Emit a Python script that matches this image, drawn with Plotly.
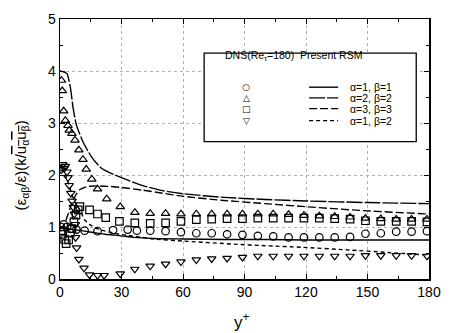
import plotly.graph_objects as go

# ---- DNS data (symbols) ----
c_x = [0.5, 1.8, 3.5, 5.5, 8, 12, 18.3, 25.9, 33, 37.5, 44, 51.5, 59, 66.5, 74, 81.5, 89, 96.5, 104, 111.5,
       119, 126.5, 134, 141.5, 149, 156.5, 164, 171.5, 179]
c_y = [1.0, 1.05, 1.0, 0.97, 0.95, 0.93, 0.92, 0.94, 0.95, 0.93, 0.93, 0.92, 0.90, 0.88, 0.88, 0.86, 0.85, 0.83,
       0.82, 0.80, 0.80, 0.80, 0.80, 0.81, 0.87, 0.88, 0.91, 0.91, 0.92]

t_x = [0.7, 1.1, 1.8, 2.6, 3.9, 4.5, 5.8, 7.3, 9.2, 11.2, 12.8, 15.5, 18.3, 22.8, 29.4, 36.5, 44, 51.5, 59, 66.5,
       74, 81.5, 89, 96.5, 104, 111.5, 119, 126.5, 134, 141.5, 149, 156.5, 164, 171.5, 179]
t_y = [3.82, 3.62, 3.23, 3.05, 2.95, 2.86, 2.80, 2.67, 2.48, 2.30, 2.11, 1.92, 1.73, 1.54, 1.39, 1.28, 1.26, 1.26,
       1.25, 1.25, 1.25, 1.25, 1.25, 1.25, 1.25, 1.24, 1.22, 1.21, 1.20, 1.19, 1.17, 1.16, 1.15, 1.15, 1.15]

s_x = [0.5, 1.0, 2.3, 3.0, 4.2, 5.0, 5.8, 6.8, 7.8, 8.9, 9.7, 14.4, 18.3, 22.3, 29, 36.5, 44, 51.5, 59, 66.5,
       74, 81.5, 89, 96.5, 104, 111.5, 119, 126.5, 134, 141.5, 149, 156.5, 164, 171.5, 179]
s_y = [0.93, 0.86, 0.76, 0.68, 0.75, 0.88, 0.97, 1.10, 1.23, 1.33, 1.39, 1.33, 1.25, 1.18, 1.11, 1.08, 1.07, 1.08,
       1.11, 1.14, 1.15, 1.16, 1.16, 1.17, 1.17, 1.17, 1.17, 1.17, 1.16, 1.15, 1.12, 1.11, 1.11, 1.11, 1.10]

v_x = [0.6, 1.3, 2.1, 2.6, 3.4, 3.9, 4.5, 5.3, 5.9, 6.5, 7.0, 7.5, 7.6, 8.1, 9.2, 11.7, 14.4, 18.3, 21.5, 29.4,
       36.5, 44, 51.5, 59, 66.5, 74, 81.5, 89, 96.5, 104, 111.5, 119, 126.5, 134, 141.5, 149, 156.5, 164, 171.5, 179]
v_y = [2.10, 2.20, 2.13, 2.17, 2.06, 1.95, 1.80, 1.65, 1.50, 1.38, 1.25, 1.05, 0.80, 0.60, 0.38, 0.21, 0.08, 0.07,
       0.07, 0.10, 0.19, 0.25, 0.29, 0.33, 0.37, 0.39, 0.40, 0.42, 0.44, 0.44, 0.44, 0.44, 0.44, 0.44, 0.44, 0.45,
       0.45, 0.45, 0.45, 0.44]

# ---- Present RSM (lines) ----
l11_x = [0, 3, 7, 12, 17, 22, 30, 36, 45, 60, 80, 100, 120, 150, 180]
l11_y = [0.98, 0.97, 0.95, 0.92, 0.89, 0.86, 0.83, 0.80, 0.78, 0.77, 0.76, 0.76, 0.75, 0.75, 0.75]

l22_x = [0, 2, 3.4, 5, 6.5, 8.1, 11.2, 15.2, 19.9, 25, 30, 40, 50, 60, 80, 100, 120, 150, 180]
l22_y = [4.0, 3.98, 3.95, 3.70, 3.26, 2.95, 2.64, 2.36, 2.14, 2.03, 1.95, 1.80, 1.70, 1.64, 1.57, 1.53, 1.50, 1.47, 1.45]

l33_x = [0, 2, 4, 6, 7.6, 9.7, 13.6, 18.3, 24, 30, 40, 50, 60, 80, 100, 120, 150, 180]
l33_y = [0.95, 1.05, 1.25, 1.48, 1.61, 1.72, 1.78, 1.79, 1.78, 1.76, 1.71, 1.65, 1.59, 1.51, 1.45, 1.39, 1.31, 1.25]

l12_x = [0, 2, 4, 6, 8, 9.7, 12, 14.4, 18, 22.3, 28, 33, 40, 46, 60, 85, 100, 118, 140, 160, 180]
l12_y = [2.10, 2.05, 1.85, 1.60, 1.42, 1.33, 1.14, 1.05, 0.97, 0.92, 0.87, 0.84, 0.80, 0.77, 0.73, 0.67, 0.64,
         0.61, 0.56, 0.51, 0.46]

x_ticks = [0, 30, 60, 90, 120, 150, 180]
y_ticks = [0, 1, 2, 3, 4, 5]

legend_rows = ["α=1, β=1", "α=2, β=2", "α=3, β=3", "α=1, β=2"]
legend_syms = ["○", "△", "□", "▽"]

BLACK = "black"
FONT = "Liberation Sans, Arial, sans-serif"
GRID = "#b0b0b0"

fig = go.Figure()

line_specs = [(l11_x, l11_y, "solid"), (l22_x, l22_y, "16px,2px"),
              (l33_x, l33_y, "8px,3px"), (l12_x, l12_y, "4px,3px")]
for lx, ly, dash in line_specs:
    fig.add_trace(go.Scatter(x=lx, y=ly, mode="lines", line=dict(color=BLACK, width=1.4, dash=dash,
                             shape="spline", smoothing=0.6), showlegend=False, hoverinfo="skip"))

mk_specs = [(c_x, c_y, "circle-open"), (t_x, t_y, "triangle-up-open"),
            (s_x, s_y, "square-open"), (v_x, v_y, "triangle-down-open")]
for mx, my, sym in mk_specs:
    fig.add_trace(go.Scatter(x=mx, y=my, mode="markers",
                             marker=dict(symbol=sym, size=7.5, color=BLACK, line=dict(width=1.2, color=BLACK)),
                             showlegend=False, hoverinfo="skip"))

fig.update_xaxes(range=[0, 180], tickvals=x_ticks, ticktext=[str(v) for v in x_ticks],
                 ticks="inside", ticklen=5, tickcolor=BLACK, showline=True, linecolor=BLACK, linewidth=1.5,
                 mirror="ticks", showgrid=True, gridcolor=GRID, griddash="dot", gridwidth=1, zeroline=False,
                 minor=dict(dtick=15, ticks="inside", ticklen=3, tickcolor=BLACK, showgrid=False),
                 tickfont=dict(family=FONT, size=14, color=BLACK))
fig.update_yaxes(range=[0, 5], tickvals=y_ticks, ticktext=[str(v) for v in y_ticks],
                 ticks="inside", ticklen=5, tickcolor=BLACK, showline=True, linecolor=BLACK, linewidth=1.5,
                 mirror="ticks", showgrid=True, gridcolor=GRID, griddash="dot", gridwidth=1, zeroline=False,
                 minor=dict(dtick=0.5, ticks="inside", ticklen=3, tickcolor=BLACK, showgrid=False),
                 tickfont=dict(family=FONT, size=14, color=BLACK))

# legend box
fig.add_shape(type="rect", xref="paper", yref="paper", x0=0.3906, x1=0.9654, y0=0.528, y1=0.869,
              line=dict(color=BLACK, width=1.3), fillcolor="white", layer="above")
ann = []
ann.append(dict(x=0.4423, y=0.8588, xref="paper", yref="paper", xanchor="left", yanchor="middle",
                text="DNS(Re<sub>τ</sub>=180)  Present RSM", showarrow=False,
                font=dict(family=FONT, size=10.5, color=BLACK)))
row_y = [0.7378, 0.6966, 0.6554, 0.6090]
for i, (lab, sym) in enumerate(zip(legend_rows, legend_syms)):
    ann.append(dict(x=0.5045, y=row_y[i], xref="paper", yref="paper", xanchor="center", yanchor="middle",
                    text=sym, showarrow=False, font=dict(family="DejaVu Sans", size=9, color=BLACK)))
    ann.append(dict(x=0.780, y=row_y[i], xref="paper", yref="paper", xanchor="left", yanchor="middle",
                    text=lab, showarrow=False, font=dict(family=FONT, size=10.5, color=BLACK)))
    fig.add_shape(type="line", xref="paper", yref="paper", x0=0.6751, x1=0.7538, y0=row_y[i], y1=row_y[i],
                  line=dict(color=BLACK, width=1.4, dash=line_specs[i][2]), layer="above")

ann.append(dict(x=-0.1037, y=0.4356, xref="paper", yref="paper", xanchor="center", yanchor="middle",
                textangle=-90, showarrow=False,
                text="(ε<sub>αβ</sub>/ε)(k/<span style='text-decoration:overline'>u<sub>α</sub>u<sub>β</sub></span>)",
                font=dict(family=FONT, size=15, color=BLACK)))
ann.append(dict(x=0.492, y=-0.16, xref="paper", yref="paper", xanchor="center", yanchor="middle",
                text="y<sup>+</sup>", showarrow=False, font=dict(family=FONT, size=17, color=BLACK)))

fig.update_layout(width=451, height=333, margin=dict(l=59.5, r=10.5, t=12, b=54),
                  paper_bgcolor="white", plot_bgcolor="white", annotations=ann)

fig.write_html("out.html", config={"displayModeBar": False, "staticPlot": True},
               post_script="document.body.style.margin='0';document.body.style.padding='0';"
                           "document.documentElement.style.overflow='hidden';")
